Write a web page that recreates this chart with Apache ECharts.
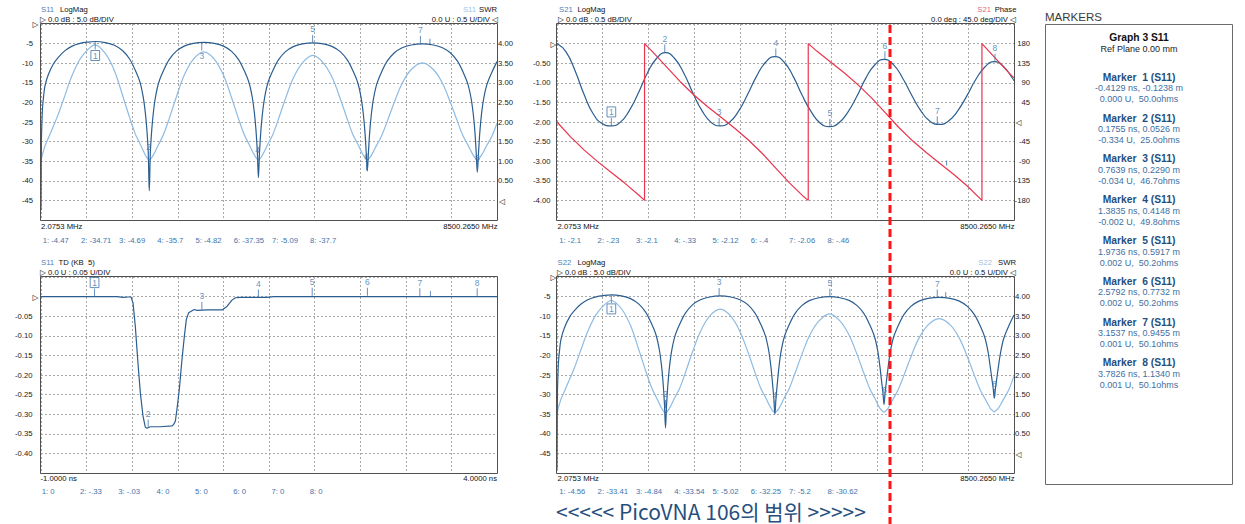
<!DOCTYPE html>
<html><head><meta charset="utf-8">
<script src="https://cdn.jsdelivr.net/npm/echarts@6.0.0/dist/echarts.min.js"></script>
<style>html,body{margin:0;padding:0;background:#fff;}#c{width:1245px;height:524px;}</style>
</head><body><div id="c"></div>
<script>
// ---------------- DATA ----------------
const freqMHz = [2, 10, 18, 30, 50, 76, 139, 232, 325, 449, 573, 728, 883, 1010,
  1200, 1370, 1520, 1650, 1755, 1845, 1905, 1945, 1975, 2000, 2020,
  2040, 2065, 2095, 2135, 2195, 2285, 2390, 2520, 2670, 2840, 3037, 3234, 3404, 3554, 3684, 3789, 3879, 3939, 3979, 4009, 4034, 4054,
  4074, 4099, 4129, 4169, 4229, 4319, 4424, 4554, 4704, 4874, 5068, 5263, 5433, 5583, 5713, 5818, 5908, 5968, 6008, 6038, 6063, 6083,
  6103, 6128, 6158, 6198, 6258, 6348, 6453, 6583, 6733, 6903, 7108, 7314, 7484, 7634, 7764, 7869, 7959, 8019, 8059, 8089, 8114, 8134,
  8154, 8179, 8209, 8249, 8309, 8399, 8500];
const s11LogMag = [-47.5, -30.0, -25.5, -21.5, -18.5, -15.8, -12.9, -10.2, -8.5, -6.8, -5.7, -4.95, -4.6, -4.47,
  -4.74, -5.42, -6.77, -8.87, -11.67, -14.77, -18.47, -22.47, -26.97, -32.47, -42.5,
  -32.69, -27.19, -22.69, -18.69, -14.99, -11.89, -9.09, -6.99, -5.64, -4.96, -4.69, -4.96, -5.64, -6.99, -9.09, -11.89, -14.99, -18.69, -22.69, -27.19, -32.69, -39.2,
  -32.82, -27.32, -22.82, -18.82, -15.12, -12.02, -9.22, -7.12, -5.77, -5.09, -4.82, -5.09, -5.77, -7.12, -9.22, -12.02, -15.12, -18.82, -22.82, -27.32, -32.82, -37.5,
  -33.09, -27.59, -23.09, -19.09, -15.39, -12.29, -9.49, -7.39, -6.04, -5.36, -5.09, -5.36, -6.04, -7.39, -9.49, -12.29, -15.39, -19.09, -23.09, -27.59, -33.09, -37.8,
  -33.3, -27.8, -23.3, -19.3, -15.6, -12.5, -9.6];
const s11Swr = [1.02, 1.065, 1.11, 1.18, 1.27, 1.39, 1.59, 1.89, 2.20, 2.68, 3.16, 3.60, 3.86, 3.97,
  3.75, 3.31, 2.69, 2.13, 1.71, 1.45, 1.27, 1.16, 1.09, 1.05, 1.03,
  1.05, 1.09, 1.16, 1.26, 1.43, 1.68, 2.08, 2.62, 3.19, 3.60, 3.79, 3.60, 3.19, 2.62, 2.08, 1.68, 1.43, 1.26, 1.16, 1.09, 1.05, 1.04,
  1.05, 1.09, 1.16, 1.26, 1.43, 1.67, 2.06, 2.58, 3.12, 3.51, 3.70, 3.51, 3.12, 2.58, 2.06, 1.67, 1.43, 1.26, 1.16, 1.09, 1.05, 1.04,
  1.05, 1.09, 1.15, 1.25, 1.41, 1.64, 2.01, 2.49, 2.99, 3.34, 3.51, 3.34, 2.99, 2.49, 2.01, 1.64, 1.41, 1.25, 1.15, 1.09, 1.05, 1.04,
  1.04, 1.09, 1.15, 1.24, 1.40, 1.62, 1.97];
const s22LogMag = [-49.0, -30.0, -25.5, -21.6, -18.6, -15.9, -13.0, -10.3, -8.6, -6.9, -5.8, -5.05, -4.7, -4.56,
  -4.83, -5.51, -6.86, -8.96, -11.76, -14.86, -18.56, -22.56, -27.06, -32.3, -38.5,
  -32.5, -27.3, -22.8, -18.8, -15.1, -12.0, -9.2, -7.1, -5.8, -5.1, -4.84, -5.1, -5.8, -7.1, -9.2, -12.0, -15.1, -18.8, -22.8, -27.0, -31.0, -35.0,
  -31.0, -27.2, -23.0, -19.0, -15.3, -12.2, -9.4, -7.3, -5.97, -5.29, -5.02, -5.29, -5.97, -7.3, -9.4, -12.2, -15.3, -19.0, -23.0, -26.6, -29.5, -32.5,
  -29.5, -26.6, -23.2, -19.2, -15.5, -12.4, -9.6, -7.5, -6.15, -5.47, -5.2, -5.47, -6.15, -7.5, -9.6, -12.4, -15.5, -19.2, -23.0, -26.0, -28.5, -30.9,
  -28.5, -26.0, -23.0, -19.4, -15.7, -12.6, -9.7];
const s22Swr = [1.02, 1.065, 1.11, 1.18, 1.27, 1.38, 1.58, 1.88, 2.18, 2.65, 3.11, 3.54, 3.79, 3.90,
  3.69, 3.26, 2.66, 2.11, 1.70, 1.44, 1.27, 1.16, 1.09, 1.05, 1.04,
  1.05, 1.09, 1.16, 1.26, 1.43, 1.67, 2.06, 2.58, 3.11, 3.50, 3.68, 3.50, 3.11, 2.58, 2.06, 1.67, 1.43, 1.26, 1.16, 1.09, 1.06, 1.04,
  1.06, 1.09, 1.15, 1.25, 1.42, 1.65, 2.03, 2.52, 3.02, 3.38, 3.56, 3.38, 3.02, 2.52, 2.03, 1.65, 1.42, 1.25, 1.15, 1.10, 1.07, 1.05,
  1.07, 1.10, 1.15, 1.25, 1.40, 1.63, 1.99, 2.46, 2.94, 3.28, 3.44, 3.28, 2.94, 2.46, 1.99, 1.63, 1.40, 1.25, 1.15, 1.11, 1.08, 1.06,
  1.08, 1.11, 1.15, 1.24, 1.39, 1.61, 1.97];
const s21Freq = [2, 170, 338, 506, 674, 842, 1010, 1178, 1347, 1515, 1683, 1852, 2020, 2190, 2359, 2529, 2698, 2868, 3037,
  3207, 3376, 3546, 3715, 3885, 4054, 4223, 4392, 4561, 4730, 4899, 5068, 5237, 5406, 5576, 5745, 5914, 6083,
  6254, 6425, 6596, 6766, 6937, 7108, 7279, 7450, 7621, 7792, 7963, 8134, 8305, 8475, 8500];
const s21LogMag = [0, -0.21, -0.69, -1.30, -1.79, -2.04, -2.10, -2.01, -1.71, -1.26, -0.75, -0.38, -0.23, -0.38, -0.75, -1.26, -1.71, -2.01, -2.10,
  -2.01, -1.73, -1.30, -0.83, -0.47, -0.33, -0.47, -0.83, -1.32, -1.74, -2.03, -2.12, -2.03, -1.76, -1.35, -0.88, -0.54, -0.40,
  -0.53, -0.87, -1.31, -1.71, -1.98, -2.06, -1.98, -1.72, -1.34, -0.91, -0.59, -0.46, -0.58, -0.89, -0.95];
const phaseFreq = [2, 254, 509, 763, 1018, 1272, 1526, 1630, 1630, 1781, 2035, 2289, 2544, 2798, 3053, 3307, 3561, 3816, 4070, 4324, 4579,
  4674, 4674, 4833, 5088, 5342, 5596, 5851, 6105, 6359, 6614, 6868, 7122, 7376, 7631, 7885, 7904, 7904, 8139, 8394, 8500];
const phaseDeg = [0, -34, -64.6, -91.5, -116.4, -141.4, -168.3, -180, 180, 161.1, 127.1, 93.1, 62.6, 35.6, 10.7, -14.3, -41.2, -71.8, -105.7, -139.7, -170.3,
  -180, 180, 162.8, 137.8, 112.9, 85.9, 55.4, 21.4, -12.6, -43.2, -70.1, -95.1, -120.0, -146.9, -177.5, -180, 180, 148.5, 114.5, 101.4];
const tdTime = [-1.0, -0.42, -0.17, -0.1, -0.04, -0.013, 0.009, 0.034, 0.060, 0.089, 0.118, 0.144, 0.162, 0.199, 0.308, 0.436, 0.455, 0.473,
  0.491, 0.517, 0.546, 0.572, 0.594, 0.619, 0.656, 0.68, 0.711, 0.82, 0.985, 1.039, 1.094, 1.131, 1.186, 1.478, 1.551, 4.0];
const tdValue = [0, 0, 0, -0.002, -0.001, -0.001, -0.016, -0.075, -0.160, -0.245, -0.304, -0.333, -0.336, -0.332, -0.332, -0.330, -0.326, -0.318,
  -0.287, -0.236, -0.160, -0.101, -0.058, -0.041, -0.036, -0.033, -0.035, -0.034, -0.034, -0.025, -0.009, -0.003, -0.002, -0.002, 0, 0];

// markers (readouts as printed)
const tlMarkerFreq = [1013, 2006, 2998, 4040, 5064, 6072, 7073, 8134];
const tlReadout = ['1: -4.47', '2: -34.71', '3: -4.69', '4: -35.7', '5: -4.82', '6: -37.35', '7: -5.09', '8: -37.7'];
const trMarkerFreq = [1013, 2006, 3017, 4071, 5076, 6100, 7073, 8146];
const trReadout = ['1: -2.1', '2: -.23', '3: -2.1', '4: -.33', '5: -2.12', '6: -.4', '7: -2.06', '8: -.46'];
const blReadout = ['1: 0', '2: -.33', '3: -.03', '4: 0', '5: 0', '6: 0', '7: 0', '8: 0'];
const brMarkerFreq = [1013, 2018, 3017, 4053, 5076, 6093, 7073, 8140];
const brReadout = ['1: -4.56', '2: -33.41', '3: -4.84', '4: -33.54', '5: -5.02', '6: -32.25', '7: -5.2', '8: -30.62'];
// marker panel (Graph 3 S11)
const mkTimeNs = ['-0.4129', '0.1755', '0.7639', '1.3835', '1.9736', '2.5792', '3.1537', '3.7826'];
const mkDistM = ['-0.1238', '0.0526', '0.2290', '0.4148', '0.5917', '0.7732', '0.9455', '1.1340'];
const mkRho = ['0.000', '-0.334', '-0.034', '-0.002', '0.002', '0.002', '0.001', '0.001'];
const mkOhms = ['50.0', '25.0', '46.7', '49.8', '50.2', '50.2', '50.1', '50.1'];
// axis end labels
const freqEndLabels = ['2.0753 MHz', '8500.2650 MHz'];
const timeEndLabels = ['-1.0000 ns', '4.0000 ns'];
const FMIN = 2.0753, FMAX = 8500.265;

// ---------------- STYLE ----------------
const FONT = '"Liberation Sans", Arial, "DejaVu Sans", sans-serif';
const C_DARK = '#2b5e90', C_LIGHT = '#8ebbe2', C_RED = '#e8344c', C_MK = '#3e74ad';
const FS = 7.7;
const G = [
  {left: 41, top: 24, width: 456, height: 196},
  {left: 557, top: 24, width: 457, height: 196},
  {left: 41, top: 277, width: 456, height: 196},
  {left: 557, top: 277, width: 457, height: 196}];

const rv = s => parseFloat(s.split(':')[1]);
const zip = (a, b) => a.map((x, i) => [x, b[i]]);
const isZero = v => Math.abs(v) < 1e-9;

function xAx(gi, min, max) {
  return {type: 'value', gridIndex: gi, min, max, interval: (max - min) / 10,
    axisLine: {show: false}, axisTick: {show: false}, axisLabel: {show: false},
    splitLine: {show: true, lineStyle: {color: '#a9a9a9', type: [2, 2], width: 1}}};
}
function yAx(gi, min, max, iv, pos, fmt, split, margin) {
  return {type: 'value', gridIndex: gi, position: pos, min, max, interval: iv,
    axisLine: {show: false}, axisTick: {show: false},
    splitLine: {show: split, lineStyle: {color: '#a9a9a9', type: [2, 2], width: 1}},
    axisLabel: {show: true, formatter: fmt, margin, color: '#1a1a1a', fontSize: FS, fontFamily: FONT,
      showMinLabel: false, showMaxLabel: false, align: 'right'}};
}
function lineS(xi, yi, data, color, smooth, z) {
  return {type: 'line', xAxisIndex: xi, yAxisIndex: yi, data, showSymbol: false, symbol: 'none', silent: true,
    smooth: smooth, z: z, lineStyle: {color, width: 1.2}, emphasis: {disabled: true}};
}
function markers(xi, yi, xs, ys, below) {
  return {type: 'scatter', xAxisIndex: xi, yAxisIndex: yi, silent: true, z: 6, clip: false,
    symbol: 'rect', symbolSize: [1, 8], itemStyle: {color: C_MK},
    data: xs.map((x, i) => {
      const b = below[i];
      const lab = {position: b ? 'bottom' : 'top', distance: 1};
      if (i === 0) Object.assign(lab, {borderColor: C_MK, borderWidth: 1, padding: [1, 2, 0, 2]});
      return {value: [x, ys[i]], name: String(i + 1), symbolOffset: [0, b ? 4 : -4], label: lab};
    }),
    label: {show: true, formatter: '{b}', color: C_MK, fontSize: 8.5, fontFamily: FONT}};
}
function ticks(xi, yi, pts) {
  return {type: 'scatter', xAxisIndex: xi, yAxisIndex: yi, silent: true, z: 6, symbol: 'rect',
    symbolSize: [1, 5], itemStyle: {color: C_MK}, data: pts.map(p => ({value: p, symbolOffset: [0, -3]}))};
}
function T(x, y, text, o) {
  o = o || {};
  const al = o.align || 'left';
  return {type: 'text', x, y, silent: true, z: o.z || 50,
    style: {text, fill: o.fill || '#111', font: (o.weight || 'normal') + ' ' + (o.size || FS) + 'px ' + (o.family || FONT),
      align: al, textAlign: al, verticalAlign: 'middle', textVerticalAlign: 'middle'}};
}

// ---------------- GRAPHICS ----------------
const gfx = [];
G.forEach(g => gfx.push({type: 'rect', silent: true, z: 40,
  shape: {x: g.left - 0.5, y: g.top - 0.5, width: g.width + 1, height: g.height + 1},
  style: {fill: 'none', stroke: '#505050', lineWidth: 1}}));
// headers
gfx.push(T(41, 9.5, 'S11', {fill: '#4f80b9'}), T(60, 9.5, 'LogMag'),
  T(40, 19.3, '\u25B7 0.0 dB : 5.0 dB/DIV'),
  T(476, 9.5, 'S11', {fill: '#9cc3e6', align: 'right'}), T(497, 9.5, 'SWR', {align: 'right'}),
  T(498, 19.3, '0.0 U : 0.5 U/DIV \u25C1', {align: 'right'}));
gfx.push(T(559, 9.5, 'S21', {fill: '#4f80b9'}), T(577.5, 9.5, 'LogMag'),
  T(558, 19.3, '\u25B7 0.0 dB : 0.5 dB/DIV'),
  T(991, 9.5, 'S21', {fill: '#e8677a', align: 'right'}), T(1016.5, 9.5, 'Phase', {align: 'right'}),
  T(1016, 19.3, '0.0 deg : 45.0 deg/DIV \u25C1', {align: 'right'}));
gfx.push(T(41, 262.3, 'S11', {fill: '#4f80b9'}), T(58.5, 262.3, 'TD (KB  5)'),
  T(40, 272.7, '\u25B7 0.0 U : 0.05 U/DIV'));
gfx.push(T(557.5, 262.3, 'S22', {fill: '#4f80b9'}), T(577.5, 262.3, 'LogMag'),
  T(557, 272.7, '\u25B7 0.0 dB : 5.0 dB/DIV'),
  T(992, 262.3, 'S22', {fill: '#9cc3e6', align: 'right'}), T(1016, 262.3, 'SWR', {align: 'right'}),
  T(1016, 272.7, '0.0 U : 0.5 U/DIV \u25C1', {align: 'right'}));
// reference arrows
gfx.push(T(35.5, 24, '\u25B7', {align: 'center'}), T(502, 201.7, '\u25C1', {align: 'center'}),
  T(553.5, 44, '\u25B7', {align: 'center'}), T(1018.5, 122.7, '\u25C1', {align: 'center'}),
  T(35.5, 297, '\u25B7', {align: 'center'}),
  T(553.5, 277, '\u25B7', {align: 'center'}), T(1018.5, 454.3, '\u25C1', {align: 'center'}));
// x end labels
gfx.push(T(41, 226, freqEndLabels[0]), T(497.5, 226, freqEndLabels[1], {align: 'right'}),
  T(557.5, 226, freqEndLabels[0]), T(1014.5, 226, freqEndLabels[1], {align: 'right'}),
  T(40.5, 478.5, timeEndLabels[0]), T(497, 478.5, timeEndLabels[1], {align: 'right'}),
  T(557.5, 478.5, freqEndLabels[0]), T(1014.5, 478.5, freqEndLabels[1], {align: 'right'}));
// readouts
tlReadout.forEach((s, i) => gfx.push(T(42.7 + i * 38.2, 240, s, {fill: C_MK})));
trReadout.forEach((s, i) => gfx.push(T(559.3 + i * 38.3, 240, s, {fill: C_MK})));
blReadout.forEach((s, i) => gfx.push(T(41.7 + i * 38.3, 491.7, s, {fill: C_MK})));
brReadout.forEach((s, i) => gfx.push(T(559.3 + i * 38.3, 491.7, s, {fill: C_MK})));
// markers panel
gfx.push(T(1045, 17, 'MARKERS', {size: 11.5, fill: '#3a3a3a'}));
gfx.push({type: 'rect', silent: true, z: 40, shape: {x: 1045.5, y: 24.5, width: 187, height: 460},
  style: {fill: '#fff', stroke: '#6a6a6a', lineWidth: 1}});
gfx.push(T(1139, 37.3, 'Graph 3 S11', {align: 'center', weight: 'bold', size: 10.3, fill: '#111'}),
  T(1139, 49.3, 'Ref Plane 0.00 mm', {align: 'center', size: 9, fill: '#222'}));
mkTimeNs.forEach((t, i) => {
  const y = 77.3 + i * 40.8;
  gfx.push(T(1139, y, 'Marker  ' + (i + 1) + ' (S11)', {align: 'center', weight: 'bold', size: 10.3, fill: '#1f4f80'}),
    T(1139, y + 11, t + ' ns, ' + mkDistM[i] + ' m', {align: 'center', size: 9, fill: '#3f6f9f'}),
    T(1139, y + 22, mkRho[i] + ' U,  ' + mkOhms[i] + 'ohms', {align: 'center', size: 9, fill: '#3f6f9f'}));
});
// korean caption and red dashed range line
gfx.push(T(556, 510.5, '<<<<< PicoVNA 106\uC758 \uBC94\uC704 >>>>>', {size: 21, family: '"Noto Sans CJK KR", sans-serif', fill: '#274f7e'}));
gfx.push({type: 'line', silent: true, z: 200, shape: {x1: 890, y1: 25, x2: 890, y2: 524},
  style: {stroke: '#ff1414', lineWidth: 3, lineDash: [8, 4]}});

// ---------------- OPTION ----------------
const option = {
  animation: false,
  backgroundColor: '#ffffff',
  grid: G.map(g => Object.assign({show: false, containLabel: false}, g)),
  xAxis: [xAx(0, FMIN, FMAX), xAx(1, FMIN, FMAX), xAx(2, -1, 4), xAx(3, FMIN, FMAX)],
  yAxis: [
    yAx(0, -50, 0, 5, 'left', v => isZero(v) ? '' : String(Math.round(v)), true, 8),
    yAx(0, -0.5, 4.5, 0.5, 'right', v => v < 0.25 ? '' : v.toFixed(2), false, 16),
    yAx(1, -4.5, 0.5, 0.5, 'left', v => isZero(v) ? '' : v.toFixed(2), true, 6.5),
    yAx(1, -225, 225, 45, 'right', v => isZero(v) ? '' : String(Math.round(v)), false, 16),
    yAx(2, -0.45, 0.05, 0.05, 'left', v => isZero(v) ? '' : v.toFixed(2), true, 8.5),
    yAx(3, -50, 0, 5, 'left', v => isZero(v) ? '' : String(Math.round(v)), true, 6.5),
    yAx(3, -0.5, 4.5, 0.5, 'right', v => v < 0.25 ? '' : v.toFixed(2), false, 16)
  ],
  series: [
    lineS(0, 1, zip(freqMHz, s11Swr), C_LIGHT, 0.35, 2),
    lineS(0, 0, zip(freqMHz, s11LogMag), C_DARK, 0.35, 3),
    markers(0, 0, tlMarkerFreq, tlReadout.map(rv), [true, false, true, false, false, false, false, false]),
    ticks(0, 0, [[7250, -5.15]]),
    lineS(1, 2, zip(s21Freq, s21LogMag), C_DARK, 0.5, 2),
    lineS(1, 3, zip(phaseFreq, phaseDeg), C_RED, false, 3),
    markers(1, 2, trMarkerFreq, trReadout.map(rv), [false, false, false, false, false, false, false, false]),
    ticks(1, 3, [[7247, -101]]),
    lineS(2, 4, zip(tdTime, tdValue), C_DARK, false, 3),
    markers(2, 4, mkTimeNs.map(Number), mkRho.map(Number), [false, false, false, false, false, false, false, false]),
    ticks(2, 4, [[3.27, 0]]),
    lineS(3, 6, zip(freqMHz, s22Swr), C_LIGHT, 0.35, 2),
    lineS(3, 5, zip(freqMHz, s22LogMag), C_DARK, 0.35, 3),
    markers(3, 5, brMarkerFreq, brReadout.map(rv), [true, false, false, false, false, false, false, false]),
    ticks(3, 5, [[7230, -5.3]])
  ],
  graphic: {elements: gfx}
};
const chart = echarts.init(document.getElementById('c'), null, {renderer: 'svg'});
chart.setOption(option);
</script>
</body></html>
